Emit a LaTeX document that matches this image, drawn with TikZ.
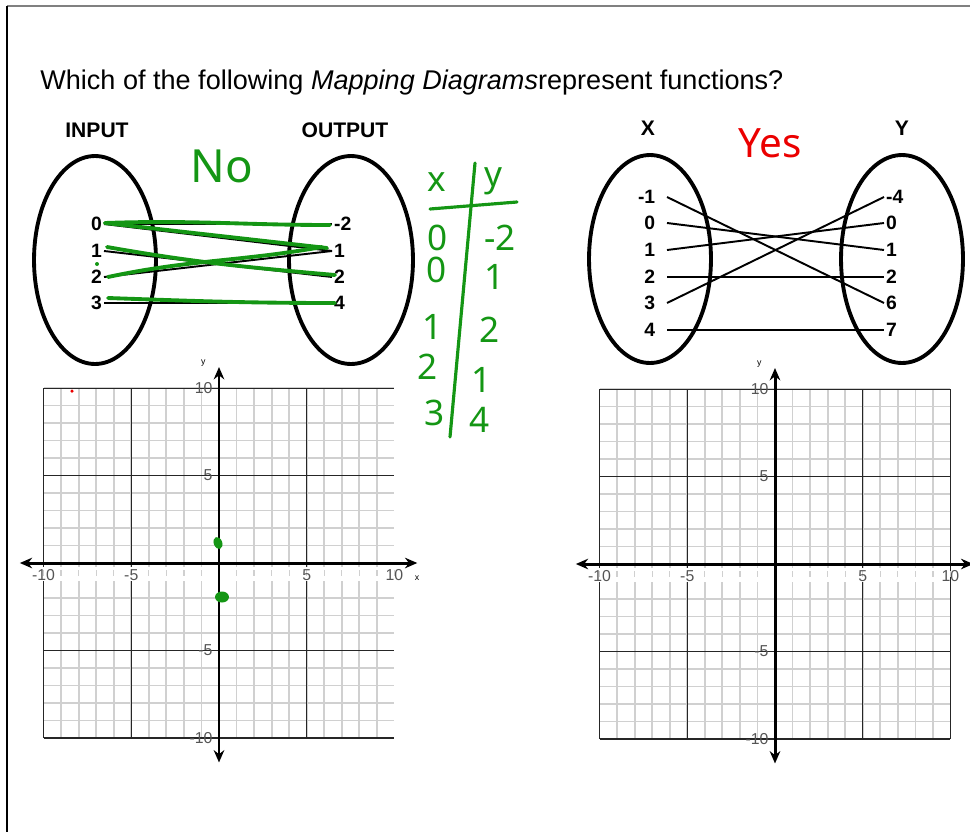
\documentclass[tikz,border=0pt]{standalone}
\usepackage{fontspec}
\setmainfont{Liberation Sans}
\newfontfamily\handfont{Noto Sans}
\usepackage{tikz}
\usetikzlibrary{arrows.meta, shapes.geometric, positioning, calc}
\definecolor{inkgreen}{RGB}{20,150,20}
\definecolor{inkred}{RGB}{235,0,0}
\definecolor{minorgray}{RGB}{208,208,208}
\definecolor{labelgray}{RGB}{85,85,85}

\begin{document}
\begin{tikzpicture}[
    x=0.02cm, y=-0.02cm,
    every node/.style={font=\footnotesize},
    head/.style={font=\fontsize{12}{14}\selectfont\bfseries},
    num/.style={font=\fontsize{11}{13}\selectfont\bfseries, inner sep=1pt},
    oval/.style={draw, ellipse, line width=2.2pt, minimum width=2.44cm, minimum height=4.16cm},
    link/.style={line width=1.1pt},
    ink/.style={draw=inkgreen, line width=2.2pt, line cap=round},
    hand/.style={font=\handfont\fontsize{20}{22}\selectfont, text=inkgreen, inner sep=0pt},
    minor/.style={draw=minorgray, line width=1pt},
    major/.style={draw=black!85, line width=0.6pt},
    axis/.style={line width=1.7pt, {Stealth[length=7pt,width=6pt]}-{Stealth[length=7pt,width=6pt]}},
    tick/.style={font=\fontsize{9}{10}\selectfont, text=labelgray, inner sep=0.5pt},
    ]

    \useasboundingbox (0,0) rectangle (970,832);

    % Page frame
    \draw[gray, line width=1.2pt] (7,6) -- (970,6);
    \draw[line width=1.2pt] (7,6) -- (7,832);

    % Title
    \node[anchor=base west, inner sep=0pt, font=\fontsize{15.4}{17}\selectfont] (title) at (40,89)
        {Which of the following \textit{Mapping Diagrams}represent functions?};

    % Left mapping: INPUT -> OUTPUT
    \node[head] (inlabel) at (97,130) {INPUT};
    \node[head] (outlabel) at (345,130) {OUTPUT};
    \node[oval] (inset) at (95,260) {};
    \node[oval, minimum width=2.48cm] (outset) at (351,260) {};

    \foreach \v/\y [count=\i] in {0/224, 1/251, 2/277, 3/303} {
        \node[num, anchor=east] (in\i) at (104,\y) {\v};
    }
    \foreach \v/\y [count=\i] in {-2/224, 1/251, 2/277, 4/303} {
        \node[num, anchor=west] (out\i) at (332,\y) {\v};
    }
    \foreach \a/\b in {1/1, 1/2, 2/3, 3/2, 4/4} {
        \draw[link] (in\a.east) -- (out\b.west);
    }

    % Green marks over the left mapping
    \draw[ink] ($(in1.east)+(1,-1)$) to[out=2, in=180] ($(out1.west)+(-2,1)$);
    \draw[ink] ($(in1.east)+(1,-1)$) -- ($(out2.west)+(-5,-3)$);
    \draw[ink] ($(in2.east)+(3,-4)$) to[out=-10, in=175] ($(out3.west)+(3,-2)$);
    \draw[ink] ($(in3.east)+(4,0)$) to[out=12, in=190] ($(out2.west)+(-10,-4)$);
    \draw[ink] ($(in4.east)+(4,-5)$) to[out=-2, in=180] ($(out4.west)+(3,0)$);
    \fill[inkgreen] (97,264) circle [radius=0.04cm];
    \node[hand, font=\handfont\fontsize{26}{28}\selectfont] (no) at (222,166) {No};

    % Handwritten table
    \node[hand] (tx) at (437,182) {x};
    \node[hand] (ty) at (493,181) {y};
    \draw[ink, line width=1.8pt] (430,209) -- (517,202);
    \draw[ink, line width=1.8pt] (475,163) -- (450,437);
    \foreach \v/\px/\py [count=\i] in {0/438/238, 0/437/270, 1/433/327, 2/428/367, 3/435/413} {
        \node[hand] (x\i) at (\px,\py) {\v};
    }
    \foreach \v/\px/\py [count=\i] in {-2/500/238, 1/495/277, 2/490/330, 1/482/380, 4/480/420} {
        \node[hand] (y\i) at (\px,\py) {\v};
    }

    % Right mapping: X -> Y
    \node[head] (xlabel) at (648,128) {X};
    \node[head] (ylabel) at (902,128) {Y};
    \node[oval] (xset) at (650,259) {};
    \node[oval] (yset) at (902,259) {};

    \foreach \v/\y [count=\i] in {-1/197, 0/223, 1/250, 2/277, 3/303, 4/330} {
        \node[num, anchor=east, inner xsep=6.5pt] (xv\i) at (667,\y) {\v};
    }
    \foreach \v/\y [count=\i] in {-4/197, 0/223, 1/250, 2/277, 6/303, 7/330} {
        \node[num, anchor=west] (yv\i) at (884,\y) {\v};
    }
    \foreach \a/\b in {1/5, 2/3, 3/2, 4/4, 5/1, 6/6} {
        \draw[link] (xv\a.east) -- (yv\b.west);
    }
    \node[hand, text=inkred, font=\handfont\fontsize{23}{25}\selectfont] (yes) at (770,143) {Yes};

    % Coordinate grids
    \foreach \g/\ox/\oy/\xmax in {L/219/563/9, R/775/564/10} {
        \begin{scope}[shift={(\ox,\oy)}, x=0.351cm, y=0.35cm]
            \foreach \k in {-10,...,\xmax} \draw[minor] (\k,-10) -- (\k,10);
            \foreach \k in {-10,...,10} \draw[minor] (-10,\k) -- (10,\k);
            \foreach \k in {-10,-5,...,\xmax} \draw[major] (\k,-10) -- (\k,10);
            \foreach \k in {-10,-5,...,10} \draw[major] (-10,\k) -- (10,\k);
            % white strip under the x axis
            \fill[white] (-10.8,-0.25) rectangle (10,-1);
            \foreach \k in {-10,...,10} \draw[minor, line width=0.7pt] (\k,-0.4) -- (\k,-0.75);
            % axes
            \draw[axis] (-11.35,0) -- (11.3,0);
            \draw[axis] (0,-11.4) -- (0,11.2);
            \node[font=\tiny] (\g ylab) at (-0.9,11.45) {y};
            \foreach \k [count=\i] in {-10,-5,5,10} {
                \node[tick] (\g tx\i) at (\k,-0.7) {\k};
                \node[tick, anchor=east] (\g ty\i) at (-0.3,\k) {\k};
            }
        \end{scope}
    }
    \node[font=\tiny] (xlab) at (417,578) {x};

    % Plotted points
    \fill[inkgreen, rotate around={20:(218,543)}] (218,543) ellipse [x radius=0.085cm, y radius=0.125cm];
    \fill[inkgreen] (222,597) ellipse [x radius=0.14cm, y radius=0.11cm];
    \fill[inkred] (72,391) circle [radius=0.035cm];

\end{tikzpicture}
\end{document}
